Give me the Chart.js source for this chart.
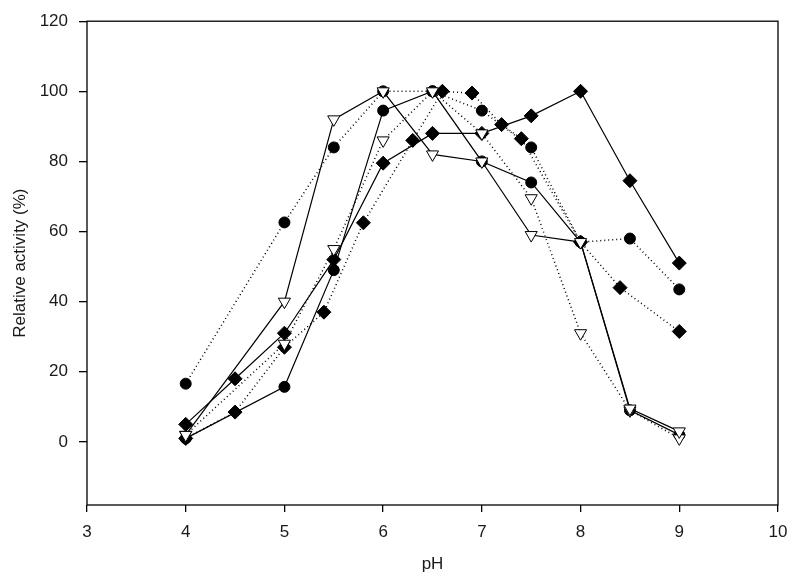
<!DOCTYPE html>
<html>
<head>
<meta charset="utf-8">
<script src="https://cdn.jsdelivr.net/npm/chart.js@4.4.0/dist/chart.umd.min.js"></script>
<style>
  html, body { margin: 0; padding: 0; background: #fff; }
  #wrap { width: 800px; height: 582px; }
</style>
</head>
<body>
<div id="wrap"><canvas id="phChart" width="800" height="582"></canvas></div>
<script>
// pH values and relative activity (%) for each curve
var phSolidDiamond = [4, 4.5, 5, 5.5, 6, 6.5, 7, 7.5, 8, 8.5, 9];
var actSolidDiamond = [5, 18, 31, 52, 79.5, 88, 88, 93, 100, 74.5, 51];

var phSolidTriangle = [4, 5, 5.5, 6, 6.5, 7, 7.5, 8, 8.5, 9];
var actSolidTriangle = [2, 40, 92, 100, 82, 80, 59, 57, 9.5, 3];

var phSolidCircle = [4, 5, 5.5, 6, 6.5, 7, 7.5, 8, 8.5, 9];
var actSolidCircle = [1, 15.7, 49, 94.5, 100, 80, 74, 57, 9, 2];

var phDotCircle = [4, 5, 5.5, 6, 6.5, 7, 7.5, 8, 8.5, 9];
var actDotCircle = [16.6, 62.6, 84, 100, 100, 94.5, 84, 57, 58, 43.5];

var phDotDiamond = [4, 4.5, 5, 5.4, 5.8, 6.3, 6.6, 6.9, 7.2, 7.4, 8, 8.4, 9];
var actDotDiamond = [1, 8.5, 27, 37, 62.5, 86, 100, 99.5, 90.5, 86.5, 57, 44, 31.5];

var phDotTriangle = [4, 5, 5.5, 6, 6.5, 7, 7.5, 8, 8.5, 9];
var actDotTriangle = [2, 28, 55, 86, 100, 88, 69.5, 31, 9, 1];

var xTickValues = [3, 4, 5, 6, 7, 8, 9, 10];
var yTickValues = [0, 20, 40, 60, 80, 100, 120];

function toPoints(xs, ys) {
    return xs.map(function (x, i) { return { x: x, y: ys[i] }; });
}

var dotted = [1, 3];

// marker looks
var diamond = { pointStyle: 'rectRot', pointRadius: 7, pointBackgroundColor: '#000', pointBorderColor: '#000', pointBorderWidth: 1 };
var circle = { pointStyle: 'circle', pointRadius: 5.5, pointBackgroundColor: '#000', pointBorderColor: '#000', pointBorderWidth: 1 };
var triangle = { pointStyle: 'triangle', pointRotation: 180, pointRadius: 7, pointBackgroundColor: '#fff', pointBorderColor: '#000', pointBorderWidth: 1 };

function series(label, xs, ys, marker, dash) {
    return Object.assign({
        label: label,
        data: toPoints(xs, ys),
        borderColor: '#000',
        borderWidth: dash ? 1.5 : 1.2,
        borderDash: dash || [],
        fill: false,
        tension: 0
    }, marker);
}

// first dataset is drawn on top
var datasets = [
    series('solid triangle', phSolidTriangle, actSolidTriangle, triangle),
    series('dotted triangle', phDotTriangle, actDotTriangle, triangle, dotted),
    series('solid diamond', phSolidDiamond, actSolidDiamond, diamond),
    series('dotted diamond', phDotDiamond, actDotDiamond, diamond, dotted),
    series('solid circle', phSolidCircle, actSolidCircle, circle),
    series('dotted circle', phDotCircle, actDotCircle, circle, dotted)
];

// box around the plot area
var frame = {
    id: 'frame',
    beforeDatasetsDraw: function (chart) {
        var a = chart.chartArea, c = chart.ctx;
        c.save();
        c.strokeStyle = '#000';
        c.lineWidth = 1.3;
        c.strokeRect(a.left, a.top, a.right - a.left, a.bottom - a.top);
        c.restore();
    }
};

var tickFont = { family: '"Liberation Sans", Arial, sans-serif', size: 17 };

new Chart(document.getElementById('phChart').getContext('2d'), {
    type: 'line',
    data: { datasets: datasets },
    options: {
        responsive: false,
        animation: false,
        layout: { padding: { top: 21, right: 22, left: 0, bottom: 0 } },
        plugins: { legend: { display: false }, tooltip: { enabled: false } },
        scales: {
            x: {
                type: 'linear',
                min: 3,
                max: 10,
                afterBuildTicks: function (s) { s.ticks = xTickValues.map(function (v) { return { value: v }; }); },
                afterFit: function (s) { s.height = 77; },
                grid: { drawOnChartArea: false, drawTicks: true, tickLength: 7, color: '#000', lineWidth: 1.3 },
                border: { display: false },
                ticks: { color: '#1a1a1a', font: tickFont, padding: 10, maxRotation: 0 },
                title: { display: true, text: 'pH', color: '#1a1a1a', font: tickFont, padding: { top: 0, bottom: 7 } }
            },
            y: {
                min: -18,
                max: 120,
                afterBuildTicks: function (s) { s.ticks = yTickValues.map(function (v) { return { value: v }; }); },
                afterFit: function (s) { s.width = 87; },
                grid: { drawOnChartArea: false, drawTicks: true, tickLength: 8, color: '#000', lineWidth: 1.3 },
                border: { display: false },
                ticks: { color: '#1a1a1a', font: tickFont, padding: 11 },
                title: { display: true, text: 'Relative activity (%)', color: '#1a1a1a', font: tickFont, padding: { top: 10, bottom: 0 } }
            }
        }
    },
    plugins: [frame]
});
</script>
</body>
</html>
